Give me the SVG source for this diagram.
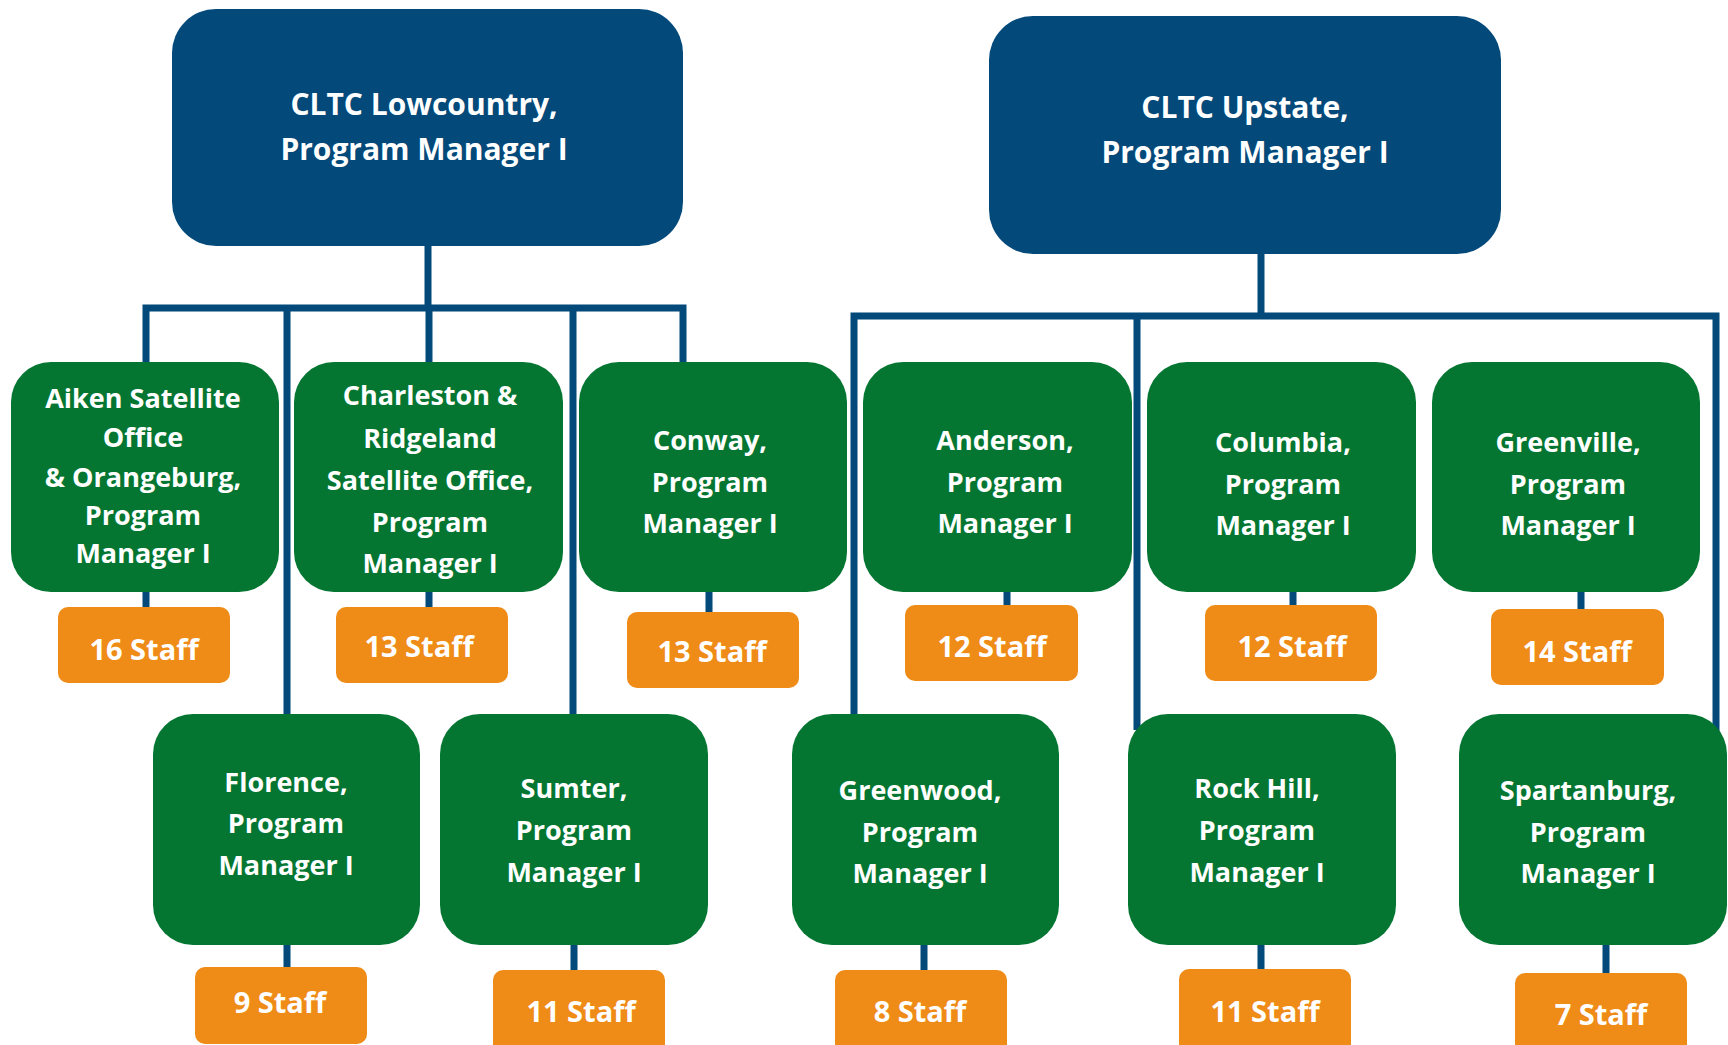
<svg xmlns="http://www.w3.org/2000/svg" width="1728" height="1045" viewBox="0 0 1728 1045">
<style>
.top{fill:#03497A}
.grn{fill:#047632}
.org{fill:#EF8B17}
text{font-family:"Open Sans","Noto Sans",sans-serif;font-weight:700;fill:#fff;text-anchor:middle}
.t{font-size:30px}
.g{font-size:27px}
.s{font-size:29px}
.c{fill:none;stroke:#03497A;stroke-width:7;stroke-linejoin:miter}
</style>
<rect width="1728" height="1045" fill="#fff"/>
<g id="connectors" class="c">
<path d="M428 246V308"/>
<path d="M146 362V308H683V362"/>
<path d="M287 308V730"/>
<path d="M429 308V362"/>
<path d="M573 308V730"/>
<path d="M1261 254V316"/>
<path d="M854 730V316H1716V740"/>
<path d="M1137 316V730"/>
<path d="M146 592V607M429 592V607M709 592V612M1007 592V605M1293 592V605M1581 592V609"/>
<path d="M287 945V967M574 945V970M924 945V970M1261 945V969M1606 945V973"/>
</g>
<g id="lowcountry"><rect class="top" x="172" y="9" width="511" height="237" rx="44"/><text class="t" x="424" y="115">CLTC Lowcountry,</text><text class="t" x="424" y="160">Program Manager I</text></g>
<g id="upstate"><rect class="top" x="989" y="16" width="512" height="238" rx="44"/><text class="t" x="1245" y="118">CLTC Upstate,</text><text class="t" x="1245" y="163">Program Manager I</text></g>
<g id="aiken"><rect class="grn" x="11" y="362" width="268" height="230" rx="40"/><text class="g" x="143" y="408">Aiken Satellite</text><text class="g" x="143" y="447">Office</text><text class="g" x="143" y="487">&amp; Orangeburg,</text><text class="g" x="143" y="525">Program</text><text class="g" x="143" y="563">Manager I</text></g>
<g id="charleston"><rect class="grn" x="294" y="362" width="269" height="230" rx="40"/><text class="g" x="430" y="405">Charleston &amp;</text><text class="g" x="430" y="448">Ridgeland</text><text class="g" x="430" y="490">Satellite Office,</text><text class="g" x="430" y="532">Program</text><text class="g" x="430" y="573">Manager I</text></g>
<g id="conway"><rect class="grn" x="579" y="362" width="268" height="230" rx="40"/><text class="g" x="710" y="450">Conway,</text><text class="g" x="710" y="492">Program</text><text class="g" x="710" y="533">Manager I</text></g>
<g id="anderson"><rect class="grn" x="863" y="362" width="269" height="230" rx="40"/><text class="g" x="1005" y="450">Anderson,</text><text class="g" x="1005" y="492">Program</text><text class="g" x="1005" y="533">Manager I</text></g>
<g id="columbia"><rect class="grn" x="1147" y="362" width="269" height="230" rx="40"/><text class="g" x="1283" y="452">Columbia,</text><text class="g" x="1283" y="494">Program</text><text class="g" x="1283" y="535">Manager I</text></g>
<g id="greenville"><rect class="grn" x="1432" y="362" width="268" height="230" rx="40"/><text class="g" x="1568" y="452">Greenville,</text><text class="g" x="1568" y="494">Program</text><text class="g" x="1568" y="535">Manager I</text></g>
<g id="florence"><rect class="grn" x="153" y="714" width="267" height="231" rx="40"/><text class="g" x="286" y="792">Florence,</text><text class="g" x="286" y="833">Program</text><text class="g" x="286" y="875">Manager I</text></g>
<g id="sumter"><rect class="grn" x="440" y="714" width="268" height="231" rx="40"/><text class="g" x="574" y="798">Sumter,</text><text class="g" x="574" y="840">Program</text><text class="g" x="574" y="882">Manager I</text></g>
<g id="greenwood"><rect class="grn" x="792" y="714" width="267" height="231" rx="40"/><text class="g" x="920" y="800">Greenwood,</text><text class="g" x="920" y="842">Program</text><text class="g" x="920" y="883">Manager I</text></g>
<g id="rockhill"><rect class="grn" x="1128" y="714" width="268" height="231" rx="40"/><text class="g" x="1257" y="798">Rock Hill,</text><text class="g" x="1257" y="840">Program</text><text class="g" x="1257" y="882">Manager I</text></g>
<g id="spartanburg"><rect class="grn" x="1459" y="714" width="268" height="231" rx="40"/><text class="g" x="1588" y="800">Spartanburg,</text><text class="g" x="1588" y="842">Program</text><text class="g" x="1588" y="883">Manager I</text></g>
<g id="staff-aiken"><rect class="org" x="58" y="607" width="172" height="76" rx="10"/><text class="s" x="144" y="660">16 Staff</text></g>
<g id="staff-charleston"><rect class="org" x="336" y="607" width="172" height="76" rx="10"/><text class="s" x="419" y="657">13 Staff</text></g>
<g id="staff-conway"><rect class="org" x="627" y="612" width="172" height="76" rx="10"/><text class="s" x="712" y="662">13 Staff</text></g>
<g id="staff-anderson"><rect class="org" x="905" y="605" width="173" height="76" rx="10"/><text class="s" x="992" y="657">12 Staff</text></g>
<g id="staff-columbia"><rect class="org" x="1205" y="605" width="172" height="76" rx="10"/><text class="s" x="1292" y="657">12 Staff</text></g>
<g id="staff-greenville"><rect class="org" x="1491" y="609" width="173" height="76" rx="10"/><text class="s" x="1577" y="662">14 Staff</text></g>
<g id="staff-florence"><rect class="org" x="195" y="967" width="172" height="77" rx="10"/><text class="s" x="280" y="1013">9 Staff</text></g>
<g id="staff-sumter"><rect class="org" x="493" y="970" width="172" height="85" rx="10"/><text class="s" x="581" y="1022">11 Staff</text></g>
<g id="staff-greenwood"><rect class="org" x="835" y="970" width="172" height="85" rx="10"/><text class="s" x="920" y="1022">8 Staff</text></g>
<g id="staff-rockhill"><rect class="org" x="1179" y="969" width="172" height="85" rx="10"/><text class="s" x="1265" y="1022">11 Staff</text></g>
<g id="staff-spartanburg"><rect class="org" x="1515" y="973" width="172" height="85" rx="10"/><text class="s" x="1601" y="1025">7 Staff</text></g>
</svg>
